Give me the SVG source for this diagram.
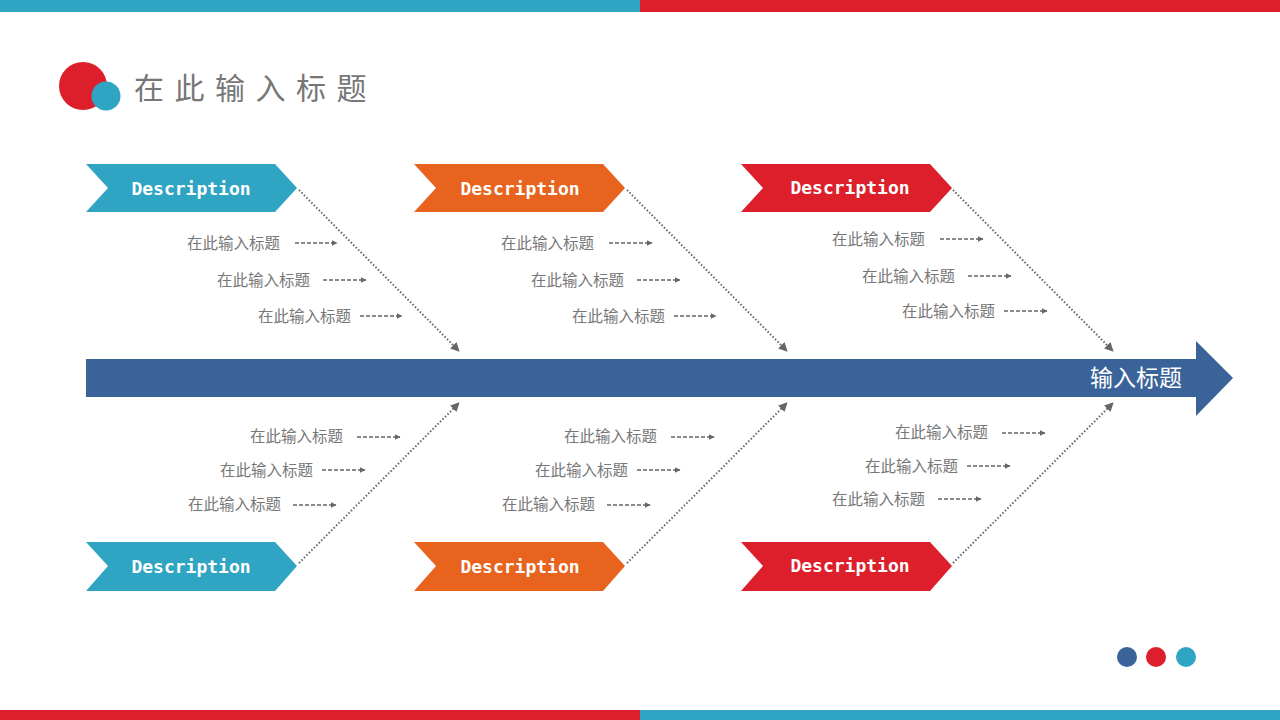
<svg xmlns="http://www.w3.org/2000/svg" width="1280" height="720" viewBox="0 0 1280 720">
<defs>
<style>
.teal{fill:#2FA5C3}.red{fill:#DC1F2B}.orange{fill:#E8641E}.blue{fill:#3A6399}
.desc{font-family:"DejaVu Sans Mono","Liberation Mono",monospace;font-size:18px;font-weight:bold;fill:#fff;text-anchor:middle}
.lbl{font-family:"Liberation Sans","Noto Sans CJK SC",sans-serif;font-size:15.5px;fill:#777}
.dash{stroke:#666;stroke-width:1.3;stroke-dasharray:4 2;fill:none;marker-end:url(#ah)}
.dot{stroke:#666;stroke-width:2;stroke-dasharray:1.5 2;fill:none;marker-end:url(#ah2)}
</style>
<marker id="ah" viewBox="0 0 10 10" refX="9" refY="5" markerWidth="6" markerHeight="6" markerUnits="userSpaceOnUse" orient="auto"><path d="M0,0L10,5L0,10z" fill="#666"/></marker>
<marker id="ah2" viewBox="0 0 10 10" refX="9" refY="5" markerWidth="9" markerHeight="9" markerUnits="userSpaceOnUse" orient="auto"><path d="M0,0L10,5L0,10z" fill="#666"/></marker>
</defs>
<rect x="0" y="0" width="640" height="12" class="teal"/>
<rect x="640" y="0" width="640" height="12" class="red"/>
<rect x="0" y="710" width="640" height="10" class="red"/>
<rect x="640" y="710" width="640" height="10" class="teal"/>
<g id="logo">
<circle cx="83" cy="86" r="24" class="red"/>
<circle cx="106" cy="96" r="14.5" class="teal"/>
<text x="134" y="99" font-family="Liberation Sans,'Noto Sans CJK SC',sans-serif" font-size="30" letter-spacing="10.5" fill="#777">在此输入标题</text>
</g>
<g id="spine">
<rect x="86" y="359" width="1112" height="38" class="blue"/>
<path d="M1196,341L1233,378L1196,416z" class="blue"/>
<text x="1182" y="386" text-anchor="end" font-family="Liberation Sans,'Noto Sans CJK SC',sans-serif" font-size="23" fill="#fff">输入标题</text>
</g>
<g id="connectors">
<path class="dot" d="M299,190L459,351"/>
<path class="dot" d="M627,190L787,351"/>
<path class="dot" d="M953,190L1113,351"/>
<path class="dot" d="M299,563L459,403"/>
<path class="dot" d="M627,563L787,403"/>
<path class="dot" d="M953,563L1113,403"/>
<path class="dash" d="M295,243H337"/><path class="dash" d="M323,280H366"/><path class="dash" d="M360,316H402"/>
<path class="dash" d="M609,243H652"/><path class="dash" d="M637,280H680"/><path class="dash" d="M674,316H716"/>
<path class="dash" d="M940,239H983"/><path class="dash" d="M968,276H1011"/><path class="dash" d="M1004,311H1047"/>
<path class="dash" d="M357,437H400"/><path class="dash" d="M322,470H365"/><path class="dash" d="M293,505H336"/>
<path class="dash" d="M671,437H714"/><path class="dash" d="M637,470H680"/><path class="dash" d="M607,505H650"/>
<path class="dash" d="M1002,433H1045"/><path class="dash" d="M967,466H1010"/><path class="dash" d="M938,499H981"/>
</g>
<g id="d1"><path d="M86,164H275L297,188L275,212H86L108,188z" class="teal"/><text x="191" y="195" class="desc">Description</text></g>
<g id="d2"><path d="M414,164H603L625,188L603,212H414L436,188z" class="orange"/><text x="520" y="195" class="desc">Description</text></g>
<g id="d3"><path d="M741,164H930L952,188L930,212H741L763,188z" class="red"/><text x="850" y="194" class="desc">Description</text></g>
<g id="d4"><path d="M86,542H275L297,566L275,591H86L108,566z" class="teal"/><text x="191" y="573" class="desc">Description</text></g>
<g id="d5"><path d="M414,542H603L625,566L603,591H414L436,566z" class="orange"/><text x="520" y="573" class="desc">Description</text></g>
<g id="d6"><path d="M741,542H930L952,566L930,591H741L763,566z" class="red"/><text x="850" y="572" class="desc">Description</text></g>
<g id="labels">
<text class="lbl" x="187" y="249">在此输入标题</text>
<text class="lbl" x="217" y="286">在此输入标题</text>
<text class="lbl" x="258" y="322">在此输入标题</text>
<text class="lbl" x="501" y="249">在此输入标题</text>
<text class="lbl" x="531" y="286">在此输入标题</text>
<text class="lbl" x="572" y="322">在此输入标题</text>
<text class="lbl" x="832" y="245">在此输入标题</text>
<text class="lbl" x="862" y="282">在此输入标题</text>
<text class="lbl" x="902" y="317">在此输入标题</text>
<text class="lbl" x="250" y="442">在此输入标题</text>
<text class="lbl" x="220" y="476">在此输入标题</text>
<text class="lbl" x="188" y="510">在此输入标题</text>
<text class="lbl" x="564" y="442">在此输入标题</text>
<text class="lbl" x="535" y="476">在此输入标题</text>
<text class="lbl" x="502" y="510">在此输入标题</text>
<text class="lbl" x="895" y="438">在此输入标题</text>
<text class="lbl" x="865" y="472">在此输入标题</text>
<text class="lbl" x="832" y="505">在此输入标题</text>
</g>
<g id="dots">
<circle cx="1127" cy="657" r="10" class="blue"/>
<circle cx="1156" cy="657" r="10" class="red"/>
<circle cx="1186" cy="657" r="10" class="teal"/>
</g>
</svg>
